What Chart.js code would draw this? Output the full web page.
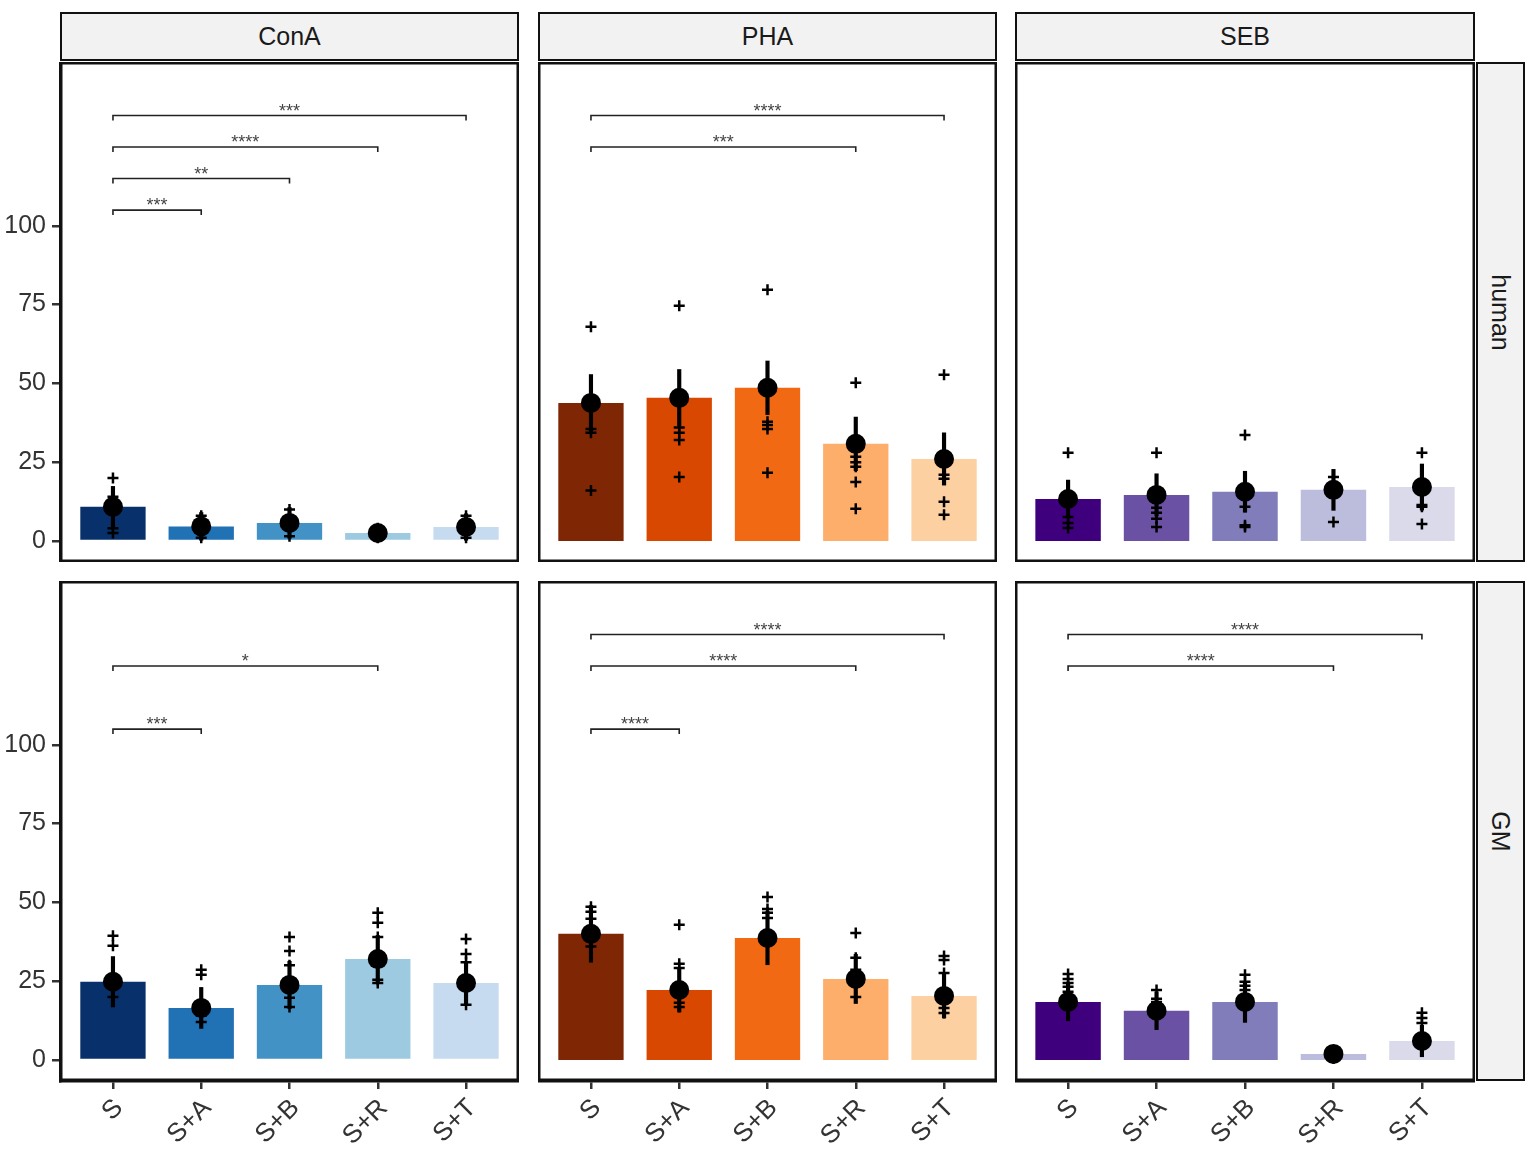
<!DOCTYPE html>
<html>
<head>
<meta charset="utf-8">
<script src="https://cdn.jsdelivr.net/npm/chart.js@4"></script>
<style>
  body { margin: 0; background: #fff; font-family: "Liberation Sans", Arial, sans-serif; }
  #wrap { position: relative; width: 1535px; height: 1152px; }
  .box { position: absolute; }
  .strip { position: absolute; background: #f2f2f2; border: 2px solid #111; box-sizing: border-box;
           color: #1a1a1a; font-size: 25px; display: flex; align-items: center; justify-content: center; }
  .strip span.rot { display: inline-block; transform: rotate(90deg); white-space: nowrap; }
</style>
</head>
<body>
<div id="wrap"></div>
<script>
const categories = ['S', 'S+A', 'S+B', 'S+R', 'S+T'];
const stimuli = ['ConA', 'PHA', 'SEB'];
const groups = ['human', 'GM'];
const yTicks = [0, 25, 50, 75, 100];

const blues = ['#08306b', '#2171b5', '#4292c6', '#9ecae1', '#c6dbef'];
const oranges = ['#7f2704', '#d94801', '#f16913', '#fdae6b', '#fdd0a2'];
const purples = ['#3f007d', '#6a51a3', '#807dba', '#bcbddc', '#dadaeb'];

// human
const humanConA_mean = [10.8, 4.6, 5.7, 2.5, 4.4];
const humanConA_se = [6.5, 4.4, 4.9, 1.5, 4.2];
const humanConA_pts = [[20, 14, 12, 4, 2.5], [8, 6, 5, 2.5, 1], [10, 7, 6, 4, 1.5], [4, 3, 2.5, 2, 1], [8, 6, 4.5, 2.5, 1]];

const humanPHA_mean = [43.8, 45.4, 48.6, 30.8, 26];
const humanPHA_se = [9, 9, 8.5, 8.5, 8.3];
const humanPHA_pts = [[68, 46, 44, 35.5, 34.3, 16], [74.6, 46, 36, 34.3, 32, 20.3], [79.7, 50, 37.8, 36.8, 35.5, 21.6],
                      [50.2, 31, 26.7, 25, 23.5, 18.7, 10.2], [52.7, 27, 21, 19.7, 12.4, 8.3]];

const humanSEB_mean = [13.3, 14.6, 15.6, 16.2, 17.1];
const humanSEB_se = [6, 6.7, 6.5, 6.5, 7.3];
const humanSEB_pts = [[28, 13, 7.6, 5.7, 4.1], [28, 14, 10.5, 8.9, 7, 4.4], [33.6, 15, 10.8, 5, 4.4],
                      [20.3, 17, 15, 6], [28, 18, 11.4, 10.8, 5.4]];

// GM
const gmConA_mean = [24.8, 16.5, 23.8, 32, 24.4];
const gmConA_se = [8, 6.5, 7.5, 7.5, 6.8];
const gmConA_pts = [[39.4, 36.2, 26, 23, 20], [28.6, 27, 16, 14, 12], [39, 34.6, 30, 24, 19.7, 16.8],
                    [46.7, 43.5, 39, 32, 25.4, 24.4], [38.4, 33.6, 31, 25, 17.5]];

const gmPHA_mean = [40, 22.2, 38.7, 25.7, 20.3];
const gmPHA_se = [9, 7, 8.5, 7.8, 7];
const gmPHA_pts = [[48.6, 47, 44.8, 39, 36], [42.9, 30.5, 29.2, 22, 18.1, 16.8], [51.7, 47.9, 46.7, 45, 38],
                   [40.3, 32.4, 28.6, 25, 20], [33, 31.7, 27.6, 20, 16.5, 14.9]];

const gmSEB_mean = [18.4, 15.6, 18.4, 1.9, 6];
const gmSEB_se = [6, 6, 6.5, 2, 5];
const gmSEB_pts = [[27.3, 25.7, 24.4, 23.2, 21.6, 18], [22.2, 19.4, 18.4, 15], [27, 24.8, 23.5, 22.2, 18],
                   [3, 1.5, 0.5], [15, 13.3, 11.7, 6]];

// significance brackets: [from, to, y, label]
const humanConA_sig = [[0, 1, 105, '***'], [0, 2, 115, '**'], [0, 3, 125, '****'], [0, 4, 135, '***']];
const humanPHA_sig = [[0, 3, 125, '***'], [0, 4, 135, '****']];
const humanSEB_sig = [];
const gmConA_sig = [[0, 1, 105, '***'], [0, 3, 125, '*']];
const gmPHA_sig = [[0, 1, 105, '****'], [0, 3, 125, '****'], [0, 4, 135, '****']];
const gmSEB_sig = [[0, 3, 125, '****'], [0, 4, 135, '****']];

const panels = [
  [humanConA_mean, humanConA_se, humanConA_pts, humanConA_sig, blues],
  [humanPHA_mean, humanPHA_se, humanPHA_pts, humanPHA_sig, oranges],
  [humanSEB_mean, humanSEB_se, humanSEB_pts, humanSEB_sig, purples],
  [gmConA_mean, gmConA_se, gmConA_pts, gmConA_sig, blues],
  [gmPHA_mean, gmPHA_se, gmPHA_pts, gmPHA_sig, oranges],
  [gmSEB_mean, gmSEB_se, gmSEB_pts, gmSEB_sig, purples]
];

// layout of the facet grid (page pixels)
const colLeft = [60, 538, 1015];
const colWidth = [459, 459, 460];
const rowTop = [62, 581];
const plotH = 500;
const yAxisW = 60;
const xAxisH = 71;
const FONT = '"Liberation Sans", Arial, sans-serif';

const wrap = document.getElementById('wrap');

function addStrip(x, y, w, h, text, rotate) {
  const d = document.createElement('div');
  d.className = 'strip';
  Object.assign(d.style, { left: x + 'px', top: y + 'px', width: w + 'px', height: h + 'px' });
  if (rotate) {
    const s = document.createElement('span');
    s.className = 'rot';
    s.textContent = text;
    d.appendChild(s);
  } else {
    d.textContent = text;
  }
  wrap.appendChild(d);
}

function noPad(s) {
  s.paddingTop = 0; s.paddingBottom = 0; s.paddingLeft = 0; s.paddingRight = 0;
}

const framePlugin = {
  id: 'frame',
  afterDraw(chart, args, opts) {
    const { ctx, chartArea: a, scales } = chart;
    ctx.save();
    // brackets
    ctx.strokeStyle = '#222';
    ctx.lineWidth = 1.6;
    ctx.fillStyle = '#444';
    ctx.font = '18px ' + FONT;
    ctx.textAlign = 'center';
    ctx.textBaseline = 'alphabetic';
    opts.sig.forEach(([from, to, yv, label]) => {
      const x1 = scales.x.getPixelForValue(from);
      const x2 = scales.x.getPixelForValue(to);
      const y = scales.y.getPixelForValue(yv);
      ctx.beginPath();
      ctx.moveTo(x1, y + 5);
      ctx.lineTo(x1, y);
      ctx.lineTo(x2, y);
      ctx.lineTo(x2, y + 5);
      ctx.stroke();
      ctx.fillText(label, (x1 + x2) / 2, y + 1);
    });
    // panel border
    ctx.strokeStyle = '#111';
    ctx.lineWidth = 2.5;
    ctx.strokeRect(a.left + 1.25, a.top + 1.25, a.right - a.left - 2.5, a.bottom - a.top - 2.5);
    ctx.restore();
  }
};

panels.forEach((p, k) => {
  const [mean, se, pts, sig, colors] = p;
  const row = Math.floor(k / 3), col = k % 3;
  const showY = col === 0, showX = row === 1;
  const left = colLeft[col] - (showY ? yAxisW : 0);
  const width = colWidth[col] + (showY ? yAxisW : 0);
  const top = rowTop[row];
  const height = plotH + (showX ? xAxisH : 0);

  const box = document.createElement('div');
  box.className = 'box';
  Object.assign(box.style, { left: left + 'px', top: top + 'px', width: width + 'px', height: height + 'px' });
  const cv = document.createElement('canvas');
  box.appendChild(cv);
  wrap.appendChild(box);

  const barData = mean.map((v, i) => ({ x: i, y: v }));
  const errData = mean.map((v, i) => ({ x: i, y: [v - se[i], v + se[i]] }));
  const ptData = [];
  pts.forEach((arr, i) => arr.forEach(v => ptData.push({ x: i, y: v })));

  new Chart(cv, {
    type: 'bar',
    data: {
      datasets: [
        { type: 'bar', data: barData, backgroundColor: colors, grouped: false,
          categoryPercentage: 1, barPercentage: 0.74, order: 4 },
        { type: 'scatter', data: ptData, pointStyle: 'cross', pointRadius: 5.5,
          borderColor: '#000', pointBorderWidth: 2.5, showLine: false, order: 3 },
        { type: 'bar', data: errData, backgroundColor: '#000', grouped: false, barThickness: 3.5, order: 2 },
        { type: 'scatter', data: barData, pointRadius: 10, backgroundColor: '#000',
          borderColor: '#000', pointBorderWidth: 0, showLine: false, order: 1 }
      ]
    },
    options: {
      responsive: true,
      maintainAspectRatio: false,
      animation: false,
      events: [],
      layout: { padding: 0, autoPadding: false },
      plugins: { legend: { display: false }, tooltip: { enabled: false }, frame: { sig } },
      scales: {
        x: {
          type: 'linear', min: -0.6, max: 4.6, offset: false, display: showX,
          afterBuildTicks: s => { s.ticks = categories.map((c, i) => ({ value: i })); },
          afterFit: s => { if (showX) s.height = xAxisH; noPad(s); },
          grid: { offset: false, drawOnChartArea: false, drawTicks: true, tickLength: 8, color: '#333', lineWidth: 2.5 },
          border: { display: true, color: '#111', width: 2.5 },
          ticks: { callback: v => categories[v], minRotation: 45, maxRotation: 45, autoSkip: false,
                   padding: 4, labelOffset: 6, color: '#333', font: { size: 26, family: FONT } }
        },
        y: {
          type: 'linear', min: -6.7, max: 152, display: showY,
          afterBuildTicks: s => { s.ticks = yTicks.map(v => ({ value: v })); },
          afterFit: s => { if (showY) s.width = yAxisW; noPad(s); },
          grid: { drawOnChartArea: false, drawTicks: true, tickLength: 8, color: '#333', lineWidth: 2.5 },
          border: { display: true, color: '#111', width: 2.5 },
          ticks: { padding: 6, color: '#333', font: { size: 25, family: FONT } }
        }
      }
    },
    plugins: [framePlugin]
  });
});

// facet strips
stimuli.forEach((s, c) => addStrip(colLeft[c], 12, colWidth[c], 49, s, false));
groups.forEach((g, r) => addStrip(1476, rowTop[r], 49, plotH, g, true));
</script>
</body>
</html>
